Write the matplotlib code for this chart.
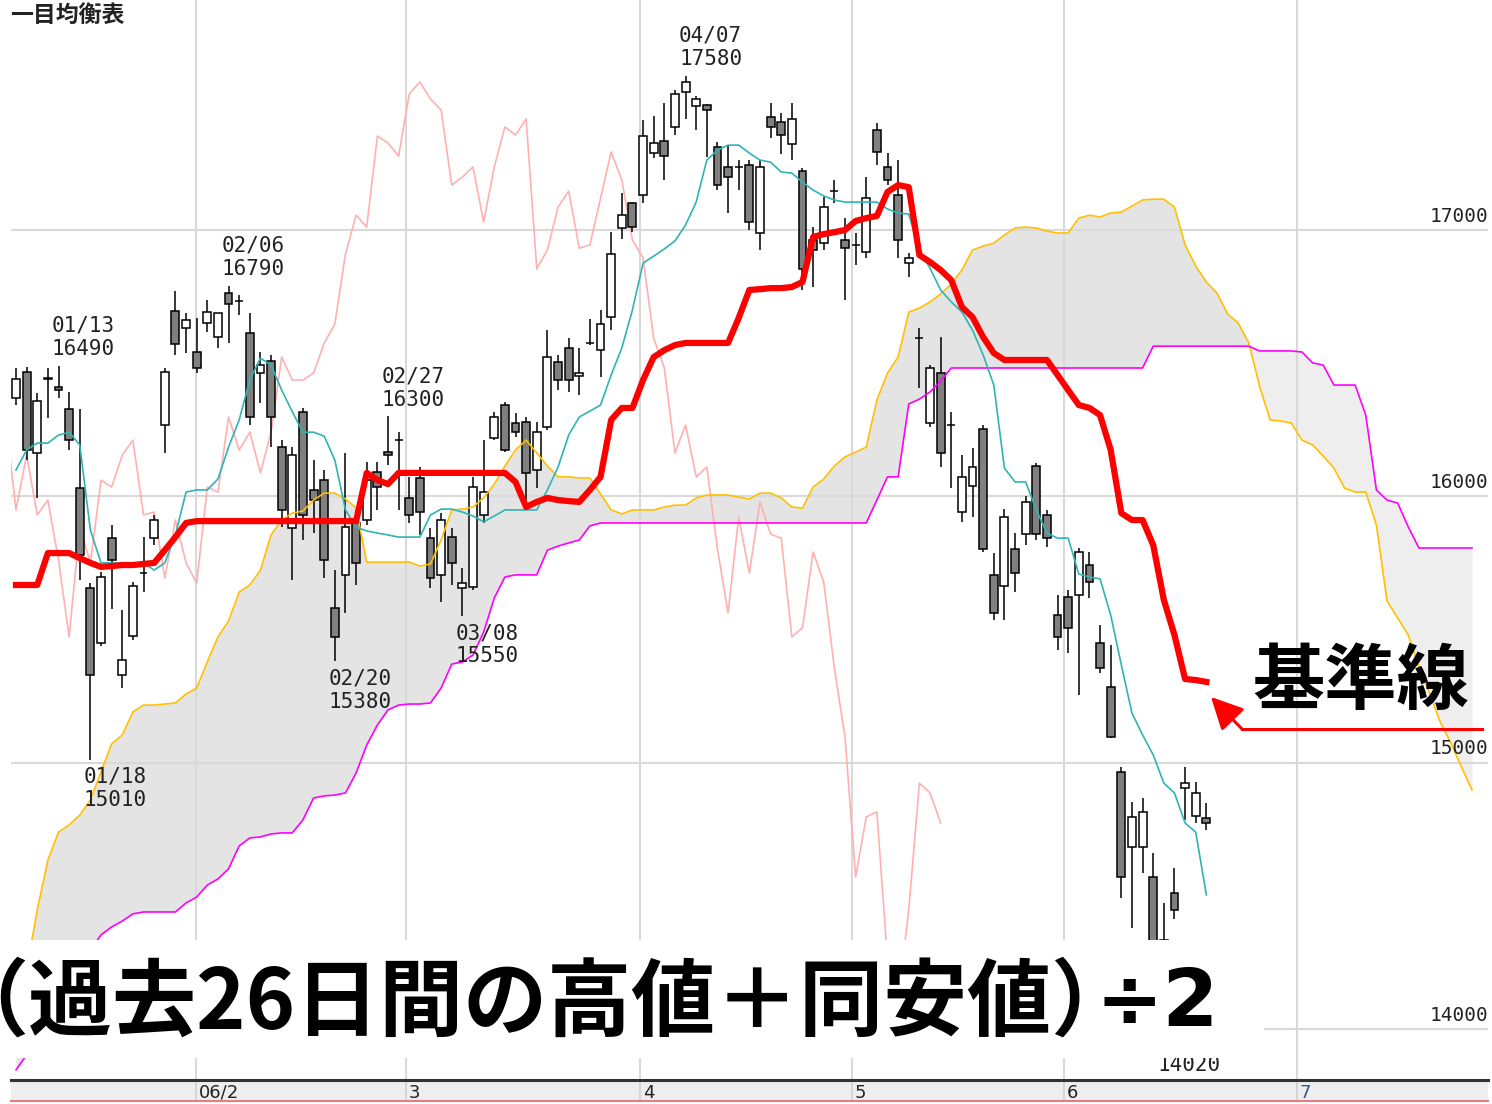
import numpy as np
import matplotlib
matplotlib.use('Agg')
import matplotlib.pyplot as plt
from matplotlib.patches import Rectangle
from matplotlib.lines import Line2D

plt.rcParams['font.family'] = ['Noto Sans CJK JP', 'DejaVu Sans']

# 日足 (2006/01 - 2006/06)
opens = [16369, 16467, 16163, 16440, 16410, 16328, 16031, 15656, 15449, 15843,
         15329, 15475, 15712, 15843, 16268, 16696, 16632, 16542, 16651, 16598,
         16763, 16733, 16613, 16463, 16508, 16185, 15881, 16317, 16024, 16061,
         15581, 15705, 15900, 15911, 16091, 16166, 16211, 15994, 16069, 15843,
         15705, 15847, 15656, 15659, 15930, 16219, 16343, 16275, 16279, 16099,
         16260, 16504, 16557, 16452, 16576, 16549, 16673, 17008, 17101, 17131,
         17289, 17334, 17387, 17518, 17466, 17469, 17312, 17237, 17237, 17244,
         16989, 17424, 17406, 17323, 17222, 16962, 16951, 17146, 16962, 16944,
         16917, 17376, 17237, 17131, 16876, 16594, 16275, 16463, 16268, 15941,
         16039, 16253, 15705, 15663, 15802, 15858, 16114, 15930, 15554, 15622,
         15629, 15742, 15449, 15284, 14965, 14683, 14683, 14571, 14334, 14510,
         14905, 14800, 14792]
highs = [16482, 16486, 16388, 16482, 16490, 16392, 16328, 15674, 15716, 15892,
         15573, 15678, 15847, 15930, 16482, 16771, 16688, 16670, 16737, 16688,
         16790, 16756, 16688, 16542, 16531, 16211, 16185, 16332, 16136, 16099,
         15723, 16163, 15949, 16129, 16129, 16300, 16241, 16073, 16110, 15881,
         15937, 15881, 15731, 16073, 16211, 16317, 16354, 16313, 16298, 16279,
         16625, 16531, 16594, 16557, 16666, 16700, 16992, 17139, 17105, 17413,
         17428, 17477, 17526, 17580, 17503, 17473, 17330, 17319, 17263, 17263,
         17263, 17477, 17439, 17477, 17233, 17011, 17124, 17188, 17045, 16989,
         17199, 17402, 17289, 17263, 16914, 16632, 16493, 16598, 16317, 16155,
         16181, 16268, 15787, 15952, 15862, 16000, 16125, 15949, 15629, 15648,
         15806, 15791, 15517, 15442, 14984, 14852, 14867, 14661, 14473, 14604,
         14984, 14927, 14848]
lows = [16343, 16136, 15994, 16294, 16369, 16174, 15686, 15010, 15438, 15577,
        15280, 15460, 15641, 15817, 16163, 16531, 16538, 16463, 16617, 16557,
        16576, 16681, 16268, 16350, 16185, 15885, 15686, 15836, 15862, 15693,
        15380, 15562, 15667, 15892, 15949, 16118, 15949, 15900, 15855, 15656,
        15603, 15667, 15550, 15648, 15900, 16211, 16166, 16223, 15986, 16031,
        16249, 16399, 16392, 16380, 16568, 16448, 16625, 16966, 16992, 17101,
        17270, 17188, 17357, 17417, 17376, 17274, 17150, 17064, 17150, 17000,
        16925, 17345, 17285, 17263, 16775, 16786, 16925, 17101, 16737, 16869,
        16895, 17244, 17169, 16895, 16824, 16407, 16260, 16110, 16031, 15904,
        15922, 15791, 15536, 15536, 15641, 15817, 15836, 15810, 15423, 15412,
        15254, 15618, 15337, 15092, 14492, 14379, 14586, 14165, 14020, 14413,
        14785, 14773, 14747]
closes = [16440, 16174, 16358, 16445, 16399, 16211, 15780, 15329, 15697, 15761,
          15385, 15663, 15712, 15911, 16467, 16572, 16662, 16482, 16692, 16688,
          16722, 16733, 16298, 16493, 16298, 15949, 16155, 15930, 15986, 15761,
          15472, 15885, 15750, 16061, 16035, 16155, 16211, 15930, 15941, 15693,
          15911, 15750, 15674, 16035, 16016, 16298, 16174, 16241, 16088, 16241,
          16523, 16437, 16437, 16463, 16576, 16647, 16910, 17056, 17011, 17353,
          17327, 17278, 17511, 17556, 17492, 17451, 17169, 17199, 17237, 17030,
          17237, 17387, 17357, 17417, 16854, 16925, 17086, 17146, 16932, 16944,
          17120, 17293, 17188, 16962, 16895, 16594, 16482, 16163, 16268, 16073,
          16110, 15802, 15562, 15922, 15712, 15979, 15858, 15843, 15472, 15506,
          15791, 15678, 15355, 15096, 14571, 14796, 14815, 14259, 14109, 14447,
          14923, 14886, 14773]

# 転換線
tenkan = [16099, 16174, 16200, 16200, 16230, 16241, 16193, 15873, 15750, 15750,
          15750, 15750, 15750, 15723, 15750, 15855, 16016, 16024, 16024, 16065,
          16185, 16287, 16437, 16519, 16493, 16399, 16317, 16241, 16241, 16226,
          16136, 15949, 15885, 15870, 15862, 15855, 15847, 15847, 15847, 15930,
          15952, 15952, 15941, 15926, 15904, 15926, 15949, 15949, 15949, 15949,
          16024, 16110, 16230, 16298, 16320, 16343, 16456, 16557, 16700, 16876,
          16902, 16929, 16959, 17019, 17105, 17263, 17300, 17319, 17319, 17289,
          17263, 17255, 17218, 17214, 17180, 17150, 17128, 17113, 17105, 17105,
          17105, 17105, 17079, 17064, 17060, 16925, 16857, 16775, 16730, 16692,
          16624, 16531, 16418, 16106, 16054, 16054, 15949, 15862, 15843, 15843,
          15708, 15697, 15690, 15554, 15367, 15186, 15104, 15029, 14923, 14886,
          14773, 14739, 14503]

# 基準線
kijun = [15667, 15667, 15667, 15787, 15787, 15787, 15768, 15750, 15735, 15738,
         15742, 15742, 15746, 15750, 15798, 15847, 15900, 15907, 15907, 15907,
         15907, 15907, 15907, 15907, 15907, 15907, 15907, 15907, 15907, 15907,
         15907, 15907, 15907, 16088, 16061, 16046, 16088, 16088, 16088, 16088,
         16088, 16088, 16088, 16088, 16088, 16088, 16088, 16054, 15960, 15979,
         15994, 15986, 15982, 15979, 16024, 16073, 16287, 16332, 16332, 16437,
         16523, 16549, 16568, 16576, 16576, 16576, 16576, 16576, 16670, 16775,
         16778, 16782, 16782, 16786, 16805, 16974, 16985, 16992, 17000, 17034,
         17045, 17053, 17143, 17169, 17161, 16906, 16880, 16850, 16812, 16711,
         16673, 16598, 16538, 16512, 16512, 16512, 16512, 16512, 16456, 16399,
         16343, 16332, 16305, 16174, 15937, 15911, 15911, 15817, 15611, 15479,
         15314, 15310, 15303]

# 先行スパン1 / 先行スパン2 (25本先まで)
senkou_a = [14109, 14221, 14447, 14634, 14739, 14766, 14803, 14860, 14965, 15070,
            15104, 15190, 15216, 15216, 15220, 15224, 15258, 15280, 15378, 15472,
            15532, 15641, 15667, 15723, 15855, 15911, 15937, 15945, 15986, 16012,
            16012, 15990, 15956, 15753, 15753, 15753, 15753, 15753, 15738, 15746,
            15836, 15949, 15952, 15960, 15994, 16046, 16114, 16174, 16211, 16163,
            16114, 16073, 16073, 16069, 16069, 16009, 15949, 15934, 15949, 15949,
            15949, 15960, 15967, 15967, 15994, 16005, 16005, 16005, 15997, 15990,
            16012, 16012, 15994, 15960, 15956, 16035, 16065, 16114, 16148, 16166,
            16185, 16362, 16463, 16523, 16692, 16707, 16730, 16760, 16797, 16850,
            16925, 16940, 16951, 16981, 17008, 17011, 17008, 16996, 16989, 16989,
            17045, 17056, 17049, 17064, 17068, 17090, 17113, 17116, 17116, 17086,
            16944, 16865, 16805, 16763, 16685, 16651, 16576, 16414, 16287, 16283,
            16275, 16211, 16193, 16151, 16106, 16031, 16016, 16016, 15892, 15607,
            15543, 15479, 15359, 15261, 15153, 15074, 14984, 14897]
senkou_b = [13846, 13902, 13958, 14034, 14109, 14165, 14240, 14296, 14353, 14383,
            14405, 14432, 14439, 14439, 14439, 14439, 14473, 14495, 14540, 14563,
            14601, 14687, 14717, 14721, 14732, 14736, 14736, 14785, 14867, 14875,
            14878, 14886, 14961, 15066, 15141, 15198, 15216, 15220, 15220, 15224,
            15280, 15370, 15378, 15404, 15490, 15618, 15697, 15705, 15705, 15705,
            15798, 15813, 15825, 15836, 15889, 15900, 15900, 15900, 15900, 15900,
            15900, 15900, 15900, 15900, 15900, 15900, 15900, 15900, 15900, 15900,
            15900, 15900, 15900, 15900, 15900, 15900, 15900, 15900, 15900, 15900,
            15900, 15986, 16073, 16073, 16347, 16365, 16392, 16433, 16482, 16482,
            16482, 16482, 16482, 16482, 16482, 16482, 16482, 16482, 16482, 16482,
            16482, 16482, 16482, 16482, 16482, 16482, 16482, 16564, 16564, 16564,
            16564, 16564, 16564, 16564, 16564, 16564, 16564, 16546, 16546, 16546,
            16546, 16542, 16501, 16493, 16418, 16418, 16418, 16305, 16024, 15986,
            15975, 15885, 15806, 15806, 15806, 15806, 15806, 15806]
shift = 25  # 遅行スパン / 先行スパンのずらし

price_ticks = [14000, 15000, 16000, 17000]
month_pos = [16.9, 36.7, 58.7, 78.65, 98.6, 120.5]
month_labels = ['06/2', '3', '4', '5', '6', '7']

# 高値・安値の注記 (足の番号, 日付, 種類)
marks = [(4, '01/13', 'high'), (20, '02/06', 'high'), (35, '02/27', 'high'),
         (63, '04/07', 'high'), (7, '01/18', 'low'), (30, '02/20', 'low'),
         (42, '03/08', 'low'), (108, '', 'low')]

W, H = 1492, 1104
fig = plt.figure(figsize=(W / 100, H / 100), dpi=100)
ax = fig.add_axes([11 / W, 24 / H, 1477 / W, 1080 / H])
ax.set_xlim(-0.47, 138.5)
ax.set_ylim(13808, 17864)
ax.axis('off')

x = np.arange(len(closes))
xs = np.arange(len(senkou_a))
sa = np.array(senkou_a)
sb = np.array(senkou_b)

# 雲
ax.fill_between(xs, sa, sb, where=sa >= sb, interpolate=True, color='#e4e4e4', lw=0, zorder=0.5)
ax.fill_between(xs, sa, sb, where=sa < sb, interpolate=True, color='#eeeeee', lw=0, zorder=0.5)

for p in price_ticks:
    ax.axhline(p, color='#d9d9d9', lw=1.5, zorder=1)
for m in month_pos:
    ax.axvline(m, color='#d9d9d9', lw=1.5, zorder=1)

# 遅行スパン
ax.plot(x - shift, closes, color='#ffb0b0', lw=1.2, zorder=2)

# ローソク足
o = np.array(opens)
c = np.array(closes)
ax.vlines(x, lows, highs, color='black', lw=1.1, zorder=3)
face = np.where(c >= o, 'white', '#808080')
ax.bar(x, np.abs(c - o), bottom=np.minimum(o, c), width=0.74, color=face,
       edgecolor='black', linewidth=1.1, zorder=3.5)

ax.plot(xs, senkou_a, color='#ffc000', lw=1.2, zorder=4)
ax.plot(xs, senkou_b, color='#ff00ff', lw=1.2, zorder=4)
ax.plot(x, tenkan, color='#2fb4b4', lw=1.2, zorder=5)
ax.plot(x, kijun, color='red', lw=4.5, solid_joinstyle='round', zorder=6)

for p in price_ticks:
    ax.annotate(str(p), xy=(1, p), xycoords=('axes fraction', 'data'), xytext=(0, 3),
                textcoords='offset points', ha='right', va='bottom', fontsize=14,
                family='DejaVu Sans Mono', color='#222222', zorder=7)

for i, d, kind in marks:
    if kind == 'high':
        val, dy, va = highs[i], 5, 'bottom'
    else:
        val, dy, va = lows[i], -5, 'top'
    if not d:
        dy -= 18  # 日付行は説明ボックスの下に隠れる
    txt = f'{d}\n{val}' if d else str(val)
    ax.annotate(txt, xy=(i, val), xytext=(18, dy), textcoords='offset points',
                ha='center', va=va, fontsize=15, family='DejaVu Sans Mono',
                linespacing=1.2, color='#222222', zorder=7)

# 日付の帯
sax = fig.add_axes([11 / W, 3 / H, 1477 / W, 21 / H], facecolor='#eeeeee')
sax.set_xlim(-0.47, 138.5)
sax.set_ylim(0, 1)
sax.set_xticks([])
sax.set_yticks([])
for s in ['left', 'right']:
    sax.spines[s].set_visible(False)
sax.spines['top'].set_color('#333333')
sax.spines['top'].set_linewidth(2.2)
sax.spines['bottom'].set_color('#e08080')
sax.spines['bottom'].set_linewidth(1.5)
for m, lbl in zip(month_pos, month_labels):
    sax.axvline(m, color='#d0d0d0', lw=1.2)
    sax.annotate(lbl, xy=(m, 0.4), xytext=(2, 0), textcoords='offset points',
                 ha='left', va='center', fontsize=13, family='DejaVu Sans',
                 color='#3a5a8a' if lbl == '7' else '#222222')

fig.text(10 / W, 1 - 15 / H, '一目均衡表', fontsize=16.5, fontweight='bold',
         ha='left', va='center', color='#222222')

# 説明ボックス
fig.add_artist(Rectangle((0, 46 / H), 1264 / W, 118 / H, transform=fig.transFigure,
                         facecolor='white', edgecolor='none', zorder=20))
fig.text(-56 / W, (H - 1004) / H, '（過去26日間の高値＋同安値）', fontsize=60.5,
         fontweight='bold', ha='left', va='center', zorder=21)
fig.text(1096 / W, (H - 1004) / H, '÷2', fontsize=58, family='DejaVu Sans',
         fontweight='bold', ha='left', va='center', zorder=21)
fig.text(1361 / W, (H - 683) / H, '基準線', fontsize=52, fontweight='bold',
         ha='center', va='center', zorder=21)

fig.add_artist(Line2D([1242 / W, 1482 / W], [(H - 729) / H] * 2, transform=fig.transFigure,
                      color='red', lw=2.2, zorder=21))
ax.annotate('', xy=(1211 / W, (H - 697) / H), xytext=(1242 / W, (H - 729) / H),
            xycoords='figure fraction', textcoords='figure fraction',
            arrowprops=dict(arrowstyle='-|>,head_length=0.7,head_width=0.35', color='red',
                            lw=2.2, mutation_scale=28, shrinkA=0, shrinkB=0),
            annotation_clip=False, zorder=21)

fig.savefig('out.png', dpi=100)
